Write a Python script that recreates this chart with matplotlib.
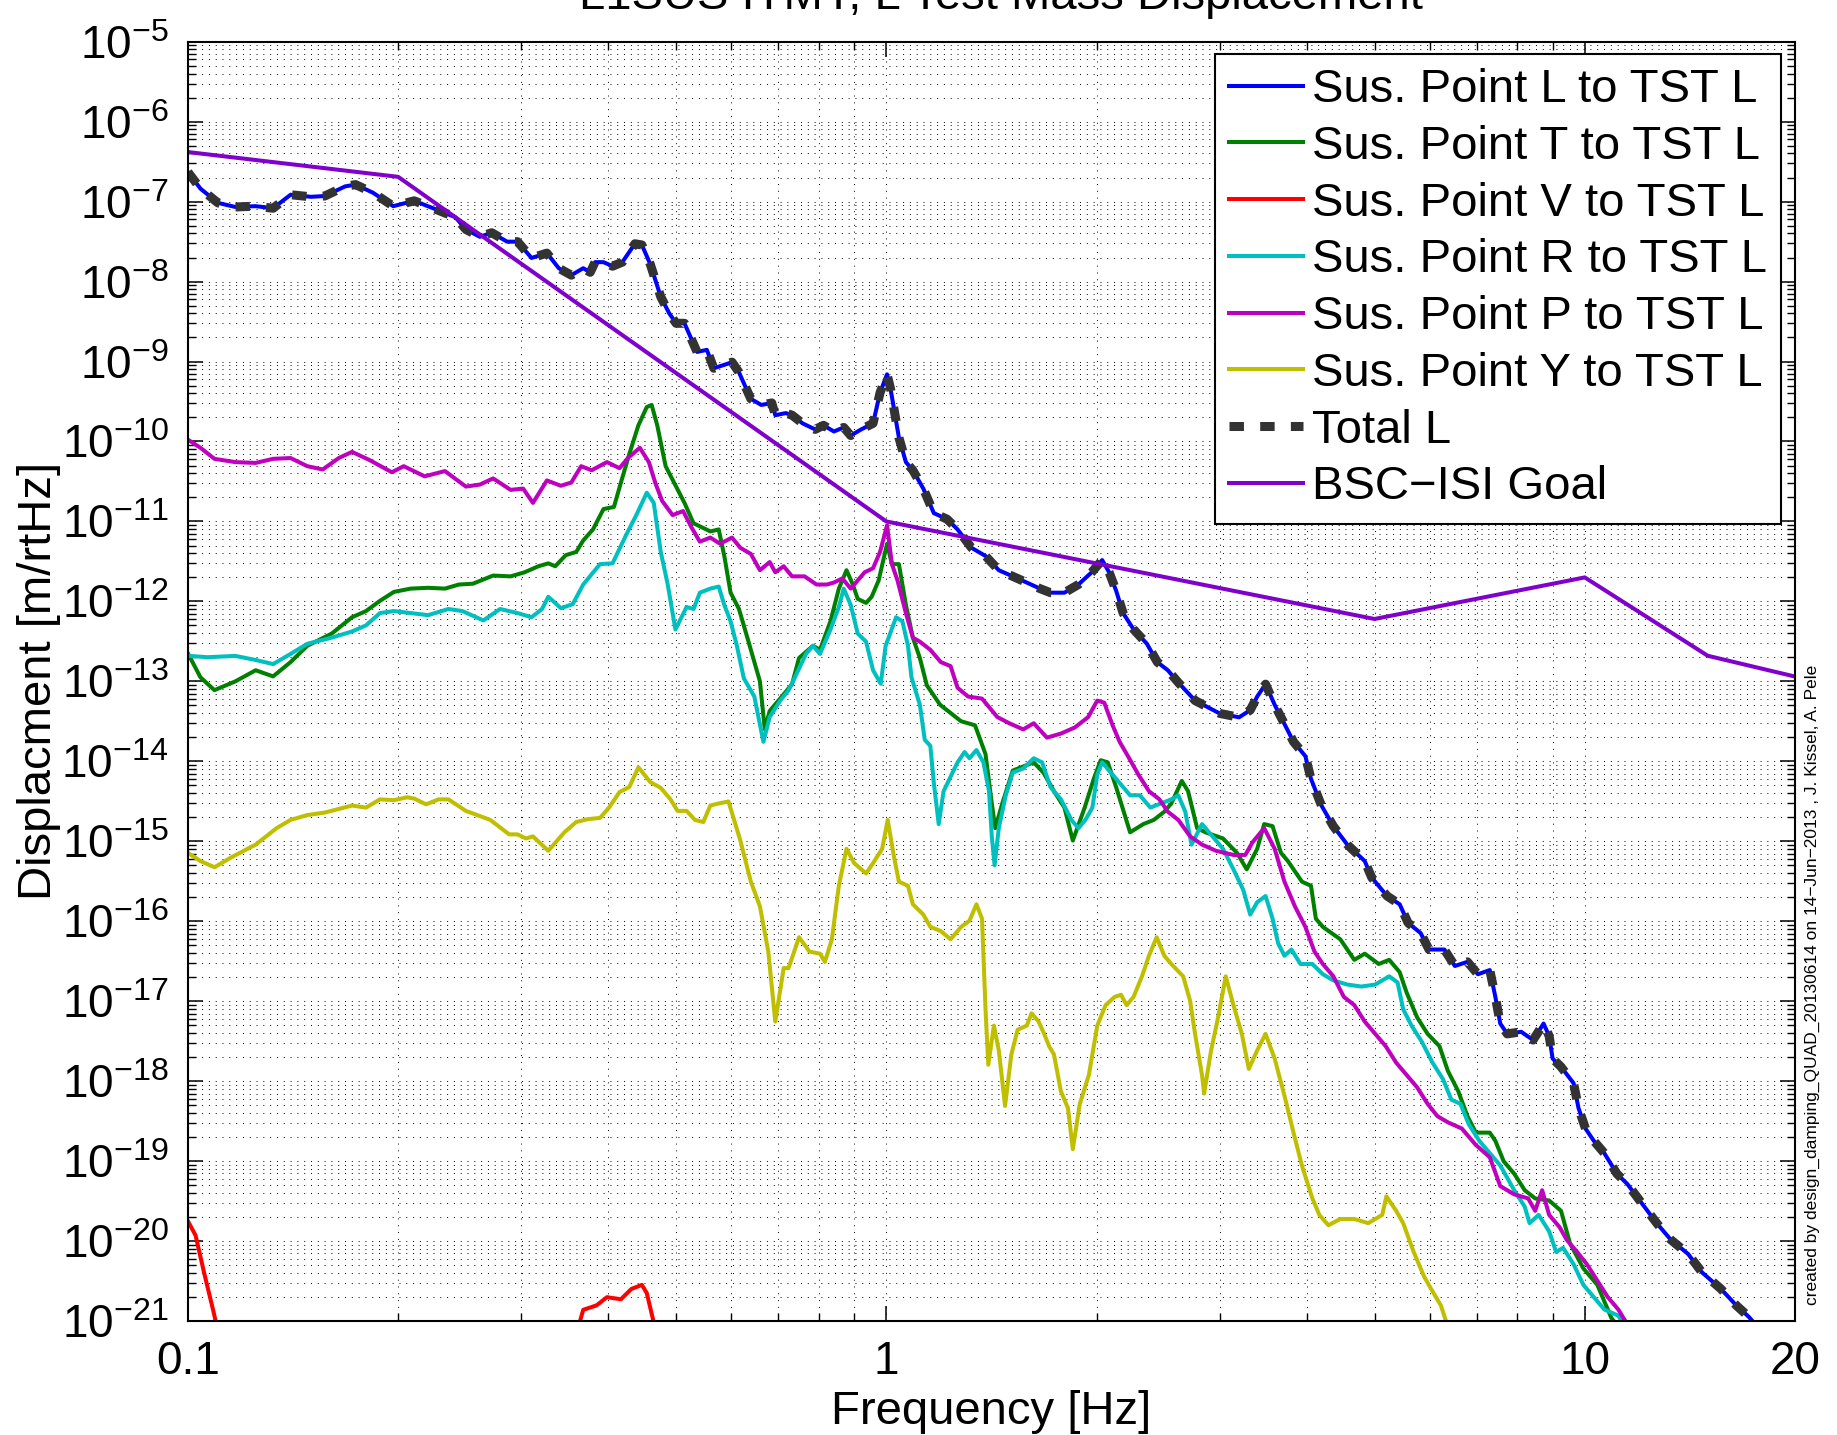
import numpy as np
import matplotlib
matplotlib.use("Agg")
import matplotlib.pyplot as plt
from matplotlib.ticker import FixedLocator, FixedFormatter, LogLocator, NullFormatter

# ---------------- data: (log10 frequency [Hz], log10 displacement [m/rtHz]) ----------------
total_pts = [
    (-1.0, -6.63), (-0.982, -6.838), (-0.957, -7.016), (-0.932, -7.067), (-0.903, -7.057), (-0.878, -7.083),
    (-0.853, -6.914), (-0.824, -6.94), (-0.804, -6.93), (-0.775, -6.81), (-0.760, -6.787), (-0.735, -6.889),
    (-0.706, -7.057), (-0.676, -6.99), (-0.646, -7.093), (-0.617, -7.195), (-0.602, -7.348), (-0.582, -7.44),
    (-0.565, -7.389), (-0.543, -7.501), (-0.528, -7.501), (-0.508, -7.705), (-0.486, -7.644), (-0.469, -7.833),
    (-0.451, -7.92), (-0.434, -7.833), (-0.424, -7.884), (-0.417, -7.757), (-0.405, -7.757), (-0.392, -7.808),
    (-0.378, -7.757), (-0.360, -7.527), (-0.350, -7.542), (-0.338, -7.782), (-0.323, -8.19), (-0.311, -8.395),
    (-0.301, -8.522), (-0.289, -8.522), (-0.271, -8.88), (-0.257, -8.854), (-0.247, -9.084), (-0.228, -9.03),
    (-0.221, -9.007), (-0.211, -9.135), (-0.194, -9.467), (-0.179, -9.543), (-0.164, -9.518), (-0.159, -9.671),
    (-0.144, -9.645), (-0.135, -9.671), (-0.120, -9.773), (-0.102, -9.849), (-0.090, -9.798), (-0.075, -9.875),
    (-0.061, -9.824), (-0.051, -9.926), (-0.036, -9.849), (-0.019, -9.773), (-0.009, -9.39), (0.001, -9.16),
    (0.006, -9.339), (0.011, -9.594), (0.018, -9.951), (0.028, -10.258), (0.038, -10.36), (0.053, -10.59),
    (0.068, -10.896), (0.087, -10.972), (0.102, -11.1), (0.122, -11.33), (0.142, -11.432), (0.161, -11.61),
    (0.181, -11.687), (0.201, -11.764), (0.220, -11.84), (0.235, -11.891), (0.255, -11.891), (0.275, -11.789),
    (0.294, -11.636), (0.309, -11.483), (0.319, -11.636), (0.329, -11.866), (0.339, -12.146), (0.354, -12.35),
    (0.373, -12.529), (0.388, -12.759), (0.403, -12.861), (0.418, -13.014), (0.442, -13.24), (0.477, -13.40),
    (0.505, -13.45), (0.521, -13.36), (0.531, -13.19), (0.543, -13.035), (0.556, -13.293), (0.568, -13.499),
    (0.583, -13.756), (0.600, -13.936), (0.608, -14.219), (0.623, -14.553), (0.640, -14.811), (0.660, -15.042),
    (0.685, -15.248), (0.695, -15.454), (0.717, -15.685), (0.735, -15.788), (0.747, -16.02), (0.765, -16.148),
    (0.777, -16.354), (0.799, -16.354), (0.814, -16.56), (0.832, -16.508), (0.847, -16.663), (0.864, -16.611),
    (0.872, -16.946), (0.879, -17.28), (0.889, -17.409), (0.909, -17.383), (0.926, -17.486), (0.941, -17.28),
    (0.949, -17.435), (0.954, -17.718), (0.966, -17.821), (0.984, -18.026), (0.991, -18.335), (1.001, -18.593),
    (1.013, -18.747), (1.028, -18.901), (1.046, -19.158), (1.061, -19.287), (1.081, -19.519), (1.103, -19.776),
    (1.123, -19.982), (1.148, -20.162), (1.168, -20.393), (1.195, -20.599), (1.217, -20.805), (1.235, -20.949),
    (1.25, -21.1),
]
sus_L_pts = total_pts  # Sus. Point L to TST L overlaps the total

sus_T_pts = [
    (-1.0, -12.65), (-0.982, -12.95), (-0.962, -13.11), (-0.932, -13.0), (-0.903, -12.861), (-0.878, -12.938),
    (-0.853, -12.759), (-0.829, -12.555), (-0.794, -12.402), (-0.765, -12.198), (-0.745, -12.121), (-0.725, -11.993),
    (-0.705, -11.881), (-0.681, -11.84), (-0.656, -11.83), (-0.632, -11.84), (-0.612, -11.789), (-0.592, -11.779),
    (-0.563, -11.677), (-0.538, -11.687), (-0.518, -11.636), (-0.498, -11.56), (-0.484, -11.524), (-0.474, -11.56),
    (-0.459, -11.422), (-0.444, -11.381), (-0.434, -11.238), (-0.420, -11.1), (-0.405, -10.845), (-0.390, -10.819),
    (-0.380, -10.513), (-0.368, -10.156), (-0.355, -9.798), (-0.343, -9.569), (-0.336, -9.543), (-0.328, -9.798),
    (-0.316, -10.309), (-0.301, -10.564), (-0.289, -10.768), (-0.276, -11.023), (-0.264, -11.074), (-0.252, -11.125),
    (-0.240, -11.1), (-0.232, -11.432), (-0.223, -11.891), (-0.211, -12.095), (-0.199, -12.453), (-0.189, -12.759),
    (-0.181, -13.0), (-0.174, -13.6), (-0.167, -13.37), (-0.152, -13.215), (-0.135, -13.035), (-0.125, -12.708),
    (-0.105, -12.555), (-0.095, -12.606), (-0.080, -12.249), (-0.068, -11.84), (-0.057, -11.61), (-0.048, -11.789),
    (-0.041, -11.968), (-0.029, -12.019), (-0.021, -11.942), (-0.011, -11.738), (0.001, -11.279), (0.008, -11.534),
    (0.018, -11.534), (0.028, -12.044), (0.038, -12.453), (0.048, -12.708), (0.058, -13.05), (0.077, -13.293),
    (0.107, -13.499), (0.127, -13.55), (0.142, -13.91), (0.151, -14.528), (0.156, -14.836), (0.166, -14.528),
    (0.181, -14.116), (0.196, -14.065), (0.211, -14.013), (0.225, -14.142), (0.240, -14.373), (0.255, -14.579),
    (0.267, -14.991), (0.284, -14.579), (0.297, -14.219), (0.307, -13.987), (0.317, -14.013), (0.329, -14.322),
    (0.349, -14.888), (0.368, -14.785), (0.383, -14.733), (0.398, -14.63), (0.408, -14.528), (0.423, -14.245),
    (0.432, -14.373), (0.445, -14.836), (0.457, -14.888), (0.482, -14.965), (0.502, -15.145), (0.516, -15.351),
    (0.531, -15.094), (0.541, -14.785), (0.553, -14.811), (0.565, -15.145), (0.575, -15.248), (0.595, -15.505),
    (0.608, -15.557), (0.615, -15.968), (0.625, -16.071), (0.650, -16.226), (0.670, -16.483), (0.685, -16.406),
    (0.705, -16.535), (0.720, -16.483), (0.735, -16.637), (0.745, -16.894), (0.760, -17.203), (0.775, -17.409),
    (0.792, -17.563), (0.804, -17.872), (0.819, -18.129), (0.832, -18.438), (0.844, -18.644), (0.864, -18.644),
    (0.872, -18.747), (0.884, -19.004), (0.899, -19.158), (0.914, -19.364), (0.929, -19.467), (0.949, -19.493),
    (0.966, -19.622), (0.979, -20.033), (0.998, -20.342), (1.018, -20.548), (1.038, -20.96), (1.05, -21.1),
]

sus_V_pts = [
    (-1.0, -19.75), (-0.989, -19.93), (-0.977, -20.39), (-0.964, -20.86), (-0.955, -21.2),
    (np.nan, np.nan),
    (-0.445, -21.2), (-0.434, -20.86), (-0.415, -20.805), (-0.400, -20.702), (-0.380, -20.728),
    (-0.365, -20.599), (-0.350, -20.548), (-0.343, -20.651), (-0.336, -20.908), (-0.328, -21.2),
]

sus_R_pts = [
    (-1.0, -12.68), (-0.972, -12.698), (-0.932, -12.682), (-0.903, -12.733), (-0.878, -12.784), (-0.853, -12.657),
    (-0.829, -12.53), (-0.794, -12.453), (-0.765, -12.376), (-0.745, -12.3), (-0.725, -12.146), (-0.705, -12.121),
    (-0.681, -12.146), (-0.656, -12.172), (-0.627, -12.095), (-0.607, -12.121), (-0.577, -12.238), (-0.553, -12.095),
    (-0.528, -12.146), (-0.508, -12.198), (-0.493, -12.095), (-0.484, -11.942), (-0.466, -12.085), (-0.449, -12.034),
    (-0.434, -11.789), (-0.410, -11.534), (-0.392, -11.524), (-0.373, -11.177), (-0.358, -10.921), (-0.343, -10.641),
    (-0.333, -10.768), (-0.323, -11.381), (-0.313, -11.789), (-0.302, -12.351), (-0.286, -12.07), (-0.276, -12.095),
    (-0.267, -11.891), (-0.252, -11.84), (-0.240, -11.815), (-0.232, -12.044), (-0.223, -12.249), (-0.214, -12.555),
    (-0.204, -12.963), (-0.189, -13.19), (-0.176, -13.756), (-0.167, -13.447), (-0.152, -13.241), (-0.140, -13.113),
    (-0.132, -12.97), (-0.115, -12.657), (-0.105, -12.555), (-0.095, -12.657), (-0.080, -12.351), (-0.068, -12.07),
    (-0.061, -11.84), (-0.051, -12.044), (-0.041, -12.402), (-0.029, -12.504), (-0.019, -12.861), (-0.008, -13.03),
    (-0.001, -12.555), (0.014, -12.198), (0.023, -12.249), (0.031, -12.555), (0.036, -12.95), (0.048, -13.293),
    (0.055, -13.73), (0.063, -13.807), (0.068, -14.27), (0.075, -14.785), (0.082, -14.373), (0.092, -14.193),
    (0.102, -14.013), (0.112, -13.884), (0.119, -13.962), (0.129, -13.859), (0.139, -14.013), (0.147, -14.373),
    (0.151, -14.939), (0.155, -15.299), (0.161, -14.836), (0.171, -14.425), (0.181, -14.142), (0.196, -14.09),
    (0.211, -13.962), (0.223, -14.013), (0.235, -14.322), (0.250, -14.476), (0.265, -14.733), (0.275, -14.836),
    (0.285, -14.733), (0.295, -14.579), (0.302, -14.168), (0.309, -14.013), (0.319, -14.116), (0.334, -14.27),
    (0.349, -14.425), (0.363, -14.425), (0.378, -14.579), (0.393, -14.528), (0.408, -14.476), (0.418, -14.425),
    (0.428, -14.63), (0.437, -15.042), (0.452, -14.785), (0.467, -14.939), (0.482, -15.094), (0.497, -15.351),
    (0.511, -15.608), (0.521, -15.917), (0.531, -15.762), (0.543, -15.685), (0.553, -15.968), (0.561, -16.277),
    (0.570, -16.432), (0.580, -16.354), (0.593, -16.535), (0.610, -16.535), (0.625, -16.663), (0.640, -16.74),
    (0.660, -16.792), (0.680, -16.817), (0.700, -16.792), (0.720, -16.689), (0.732, -16.766), (0.740, -17.1),
    (0.752, -17.306), (0.767, -17.512), (0.782, -17.769), (0.797, -17.975), (0.809, -18.232), (0.822, -18.284),
    (0.834, -18.541), (0.849, -18.747), (0.864, -18.901), (0.879, -19.055), (0.899, -19.364), (0.914, -19.57),
    (0.921, -19.776), (0.934, -19.673), (0.949, -19.879), (0.959, -20.136), (0.969, -20.085), (0.984, -20.29),
    (0.998, -20.548), (1.013, -20.702), (1.028, -20.856), (1.048, -20.933), (1.06, -21.1),
]

sus_P_pts = [
    (-1.0, -9.977), (-0.982, -10.079), (-0.962, -10.217), (-0.932, -10.258), (-0.903, -10.268), (-0.878, -10.217),
    (-0.853, -10.207), (-0.829, -10.309), (-0.807, -10.35), (-0.784, -10.207), (-0.765, -10.13), (-0.740, -10.232),
    (-0.708, -10.385), (-0.691, -10.309), (-0.661, -10.436), (-0.632, -10.37), (-0.602, -10.564), (-0.582, -10.539),
    (-0.563, -10.462), (-0.538, -10.605), (-0.520, -10.589), (-0.506, -10.768), (-0.486, -10.487), (-0.466, -10.554),
    (-0.451, -10.513), (-0.437, -10.309), (-0.422, -10.36), (-0.400, -10.258), (-0.382, -10.334), (-0.370, -10.207),
    (-0.353, -10.079), (-0.340, -10.258), (-0.331, -10.513), (-0.321, -10.743), (-0.306, -10.921), (-0.291, -10.87),
    (-0.279, -11.074), (-0.267, -11.253), (-0.252, -11.202), (-0.238, -11.279), (-0.221, -11.202), (-0.209, -11.33),
    (-0.194, -11.406), (-0.181, -11.61), (-0.167, -11.508), (-0.159, -11.636), (-0.147, -11.56), (-0.135, -11.687),
    (-0.117, -11.687), (-0.100, -11.789), (-0.085, -11.789), (-0.075, -11.764), (-0.063, -11.713), (-0.051, -11.84),
    (-0.041, -11.738), (-0.031, -11.636), (-0.019, -11.585), (-0.009, -11.381), (0.001, -11.049), (0.008, -11.534),
    (0.016, -11.738), (0.028, -12.146), (0.038, -12.453), (0.048, -12.504), (0.063, -12.606), (0.078, -12.759),
    (0.092, -12.81), (0.102, -13.08), (0.117, -13.19), (0.137, -13.216), (0.159, -13.447), (0.176, -13.524),
    (0.196, -13.601), (0.211, -13.524), (0.230, -13.704), (0.250, -13.653), (0.270, -13.576), (0.289, -13.447),
    (0.302, -13.241), (0.312, -13.267), (0.324, -13.55), (0.334, -13.756), (0.346, -13.936), (0.361, -14.168),
    (0.376, -14.373), (0.391, -14.476), (0.403, -14.63), (0.418, -14.733), (0.435, -14.939), (0.452, -15.042),
    (0.472, -15.119), (0.497, -15.171), (0.514, -15.171), (0.524, -15.016), (0.541, -14.836), (0.556, -15.094),
    (0.570, -15.505), (0.585, -15.814), (0.600, -16.071), (0.613, -16.38), (0.625, -16.535), (0.640, -16.689),
    (0.655, -16.946), (0.670, -17.049), (0.685, -17.255), (0.700, -17.409), (0.715, -17.563), (0.730, -17.769),
    (0.745, -17.923), (0.760, -18.078), (0.775, -18.284), (0.789, -18.438), (0.804, -18.515), (0.824, -18.593),
    (0.844, -18.798), (0.864, -18.952), (0.879, -19.313), (0.899, -19.416), (0.919, -19.467), (0.929, -19.622),
    (0.939, -19.364), (0.949, -19.673), (0.964, -19.827), (0.974, -19.982), (0.989, -20.136), (1.003, -20.29),
    (1.018, -20.496), (1.033, -20.702), (1.048, -20.856), (1.065, -21.1),
]

sus_Y_pts = [
    (-1.0, -15.145), (-0.982, -15.248), (-0.962, -15.325), (-0.937, -15.197), (-0.903, -15.042), (-0.873, -14.836),
    (-0.853, -14.733), (-0.829, -14.672), (-0.804, -14.641), (-0.765, -14.553), (-0.745, -14.579), (-0.725, -14.476),
    (-0.705, -14.486), (-0.686, -14.45), (-0.676, -14.466), (-0.659, -14.538), (-0.641, -14.476), (-0.627, -14.476),
    (-0.602, -14.62), (-0.567, -14.733), (-0.540, -14.914), (-0.528, -14.914), (-0.516, -14.965), (-0.506, -14.939),
    (-0.484, -15.119), (-0.461, -14.888), (-0.444, -14.759), (-0.427, -14.723), (-0.410, -14.708), (-0.397, -14.579),
    (-0.382, -14.384), (-0.368, -14.322), (-0.355, -14.075), (-0.338, -14.26), (-0.323, -14.332), (-0.309, -14.476),
    (-0.299, -14.62), (-0.286, -14.62), (-0.274, -14.733), (-0.262, -14.759), (-0.252, -14.553), (-0.240, -14.527),
    (-0.226, -14.502), (-0.209, -14.991), (-0.194, -15.505), (-0.181, -15.814), (-0.169, -16.38), (-0.159, -17.255),
    (-0.147, -16.586), (-0.140, -16.586), (-0.125, -16.2), (-0.110, -16.38), (-0.095, -16.406), (-0.088, -16.509),
    (-0.078, -16.226), (-0.068, -15.557), (-0.057, -15.094), (-0.046, -15.274), (-0.029, -15.402), (-0.019, -15.274),
    (-0.006, -15.094), (0.002, -14.733), (0.011, -15.197), (0.018, -15.505), (0.031, -15.557), (0.038, -15.788),
    (0.053, -15.917), (0.063, -16.071), (0.078, -16.123), (0.092, -16.226), (0.107, -16.071), (0.119, -15.994),
    (0.129, -15.788), (0.137, -15.968), (0.142, -17.1), (0.146, -17.795), (0.154, -17.306), (0.161, -17.615),
    (0.170, -18.31), (0.179, -17.666), (0.188, -17.357), (0.201, -17.306), (0.208, -17.152), (0.218, -17.255),
    (0.226, -17.409), (0.233, -17.563), (0.240, -17.666), (0.250, -18.129), (0.260, -18.335), (0.267, -18.85),
    (0.277, -18.284), (0.290, -17.923), (0.302, -17.306), (0.314, -17.049), (0.327, -16.946), (0.336, -16.92),
    (0.344, -17.049), (0.354, -16.946), (0.366, -16.689), (0.376, -16.432), (0.387, -16.2), (0.398, -16.432),
    (0.408, -16.535), (0.425, -16.689), (0.435, -16.997), (0.442, -17.409), (0.452, -17.923), (0.455, -18.155),
    (0.465, -17.615), (0.475, -17.203), (0.486, -16.689), (0.497, -17.049), (0.509, -17.409), (0.519, -17.847),
    (0.531, -17.615), (0.543, -17.409), (0.556, -17.718), (0.570, -18.181), (0.583, -18.644), (0.595, -19.055),
    (0.610, -19.467), (0.620, -19.673), (0.633, -19.802), (0.650, -19.724), (0.670, -19.724), (0.690, -19.776),
    (0.710, -19.673), (0.716, -19.441), (0.730, -19.622), (0.740, -19.776), (0.755, -20.136), (0.770, -20.445),
    (0.780, -20.599), (0.794, -20.805), (0.805, -21.1),
]

goal_pts = [(-1.0, -6.38), (-0.699, -6.69), (0.0, -11.0), (0.699, -12.22), (1.0, -11.7), (1.1761, -12.68), (1.301, -12.94)]

series_labels = ["Sus. Point L to TST L", "Sus. Point T to TST L", "Sus. Point V to TST L",
                 "Sus. Point R to TST L", "Sus. Point P to TST L", "Sus. Point Y to TST L",
                 "Total L", "BSC\u2212ISI Goal"]
x_tick_vals = [0.1, 1, 10, 20]
x_tick_labels = ["0.1", "1", "10", "20"]
y_exponents = list(range(-21, -4))
title_text = "L1SUS ITMY, L Test Mass Displacement"
xlabel_text = "Frequency [Hz]"
ylabel_text = "Displacment [m/rtHz]"
side_text = "created by design_damping_QUAD_20130614 on 14\u2212Jun\u22122013 , J. Kissel, A. Pele"

# ---------------- style ----------------
plt.rcParams['font.family'] = ['Liberation Sans', 'DejaVu Sans']
plt.rcParams['mathtext.fontset'] = 'custom'
plt.rcParams['mathtext.rm'] = 'Liberation Sans'
plt.rcParams['mathtext.it'] = 'Liberation Sans:italic'
plt.rcParams['mathtext.bf'] = 'Liberation Sans:bold'


def xy(pts):
    a = np.array(pts, dtype=float)
    return np.power(10.0, a[:, 0]), np.power(10.0, a[:, 1])


fig = plt.figure(figsize=(18.37, 14.35), dpi=100)
ax = fig.add_axes([0.10229, 0.07944, 0.87485, 0.8915])

lw = 2.9
colors = [(0, 0, 1), (0, 0.5, 0), (1, 0, 0), (0, 0.75, 0.75), (0.75, 0, 0.75), (0.75, 0.75, 0)]
for pts, c, lab in zip([sus_L_pts, sus_T_pts, sus_V_pts, sus_R_pts, sus_P_pts, sus_Y_pts], colors, series_labels[:6]):
    f, v = xy(pts)
    ax.plot(f, v, color=c, lw=lw, label=lab, solid_joinstyle='round')

f, v = xy(total_pts)
ax.plot(f, v, color=(0.2, 0.2, 0.2), lw=6.5, linestyle=(0, (1.6, 1.8)), dash_capstyle='butt', label=series_labels[6])
f, v = xy(goal_pts)
ax.plot(f, v, color=(0.5, 0, 0.8), lw=lw, label=series_labels[7])

ax.set_xscale('log')
ax.set_yscale('log')
ax.set_xlim(0.1, 20)
ax.set_ylim(1e-21, 1e-5)

ax.xaxis.set_major_locator(FixedLocator(x_tick_vals))
ax.xaxis.set_major_formatter(FixedFormatter(x_tick_labels))
ax.xaxis.set_minor_locator(LogLocator(base=10, subs=np.arange(2, 10), numticks=50))
ax.xaxis.set_minor_formatter(NullFormatter())
ax.yaxis.set_major_locator(FixedLocator([10.0 ** e for e in y_exponents]))
ax.yaxis.set_major_formatter(FixedFormatter([r'$\mathdefault{10^{%d}}$' % e for e in y_exponents]))
ax.yaxis.set_minor_locator(LogLocator(base=10, subs=np.arange(2, 10), numticks=200))
ax.yaxis.set_minor_formatter(NullFormatter())

ax.tick_params(which='both', direction='in', top=True, right=True, labelsize=33)
ax.tick_params(which='major', length=11, width=1.1)
ax.tick_params(which='minor', length=6, width=1.0)
ax.tick_params(axis='y', pad=14)
ax.tick_params(axis='x', pad=14)
for s in ax.spines.values():
    s.set_linewidth(1.5)

ax.grid(True, which='both', linestyle=(0, (1, 6)), color='k', linewidth=0.7)
ax.set_axisbelow(True)

ax.set_xlabel(xlabel_text, fontsize=34, labelpad=4)
ax.set_ylabel(ylabel_text, fontsize=34, labelpad=0)

fig.text(0.545, 1 - 9 / 1435, title_text, ha='center', va='baseline', fontsize=34)
fig.text(1812 / 1837, 1 - 1305 / 1435, side_text, rotation=90, ha='center', va='bottom', fontsize=12.5)

leg = ax.legend(loc='upper right', bbox_to_anchor=(1781 / 1837, 1 - 54 / 1435), bbox_transform=fig.transFigure,
                fontsize=34, handlelength=1.57, handletextpad=0.19, labelspacing=0.27, borderpad=0.3,
                borderaxespad=0, frameon=True, fancybox=False, framealpha=1, edgecolor='k')
leg.get_frame().set_linewidth(1.5)

fig.savefig('out.png', dpi=100)
